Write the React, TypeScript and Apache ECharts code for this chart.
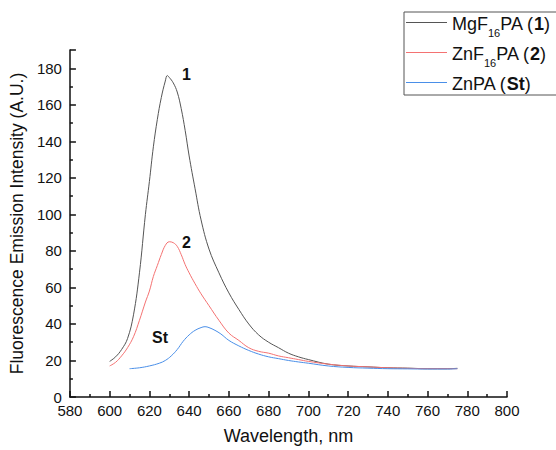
import React, { useEffect, useRef } from "react";
import * as echarts from "echarts";

const wl1 = [600, 603, 606, 609, 612, 615, 618, 620, 622, 624, 626, 628, 629, 630, 632, 634, 636, 638, 640, 643, 646, 650, 655, 660, 665, 670, 675, 680, 685, 690, 695, 700, 710, 720, 730, 740, 750, 760, 770, 775];
const v1 = [19.5, 22, 26, 32, 45, 68, 100, 118, 137, 152, 164, 173, 176, 175, 172, 167, 158, 146, 132, 114, 97, 81, 68, 57, 48, 40, 34, 30, 27, 24, 22, 20.5, 18, 17, 16.5, 16, 15.8, 15.5, 15.5, 15.7];

const wl2 = [600, 603, 606, 609, 612, 615, 618, 620, 622, 624, 626, 628, 630, 632, 634, 636, 638, 640, 643, 646, 650, 655, 660, 665, 670, 675, 680, 685, 690, 695, 700, 710, 720, 730, 740, 750, 760, 770, 775];
const v2 = [17, 19, 22.5, 27, 33, 42, 52, 58, 66, 72, 78, 83, 85, 84.5, 82.5, 78, 72.5, 68, 62, 56.5, 50, 42, 35, 31, 27, 25, 24, 22.5, 21.5, 20.5, 19.5, 18, 17, 16.5, 16, 15.7, 15.5, 15.5, 15.5];

const wl3 = [610, 615, 620, 625, 628, 631, 634, 637, 640, 643, 646, 648, 650, 653, 656, 660, 665, 670, 675, 680, 685, 690, 695, 700, 710, 720, 730, 740, 750, 760, 770, 775];
const v3 = [15.5, 16, 17, 18.5, 20, 22.5, 26, 30.5, 34, 36.5, 38, 38.5, 38, 36.5, 34.5, 31, 28, 25.5, 23.5, 22, 21, 20, 19.2, 18.5, 17, 16.2, 15.8, 15.5, 15.4, 15.3, 15.3, 15.5];

const xTicks = { min: 580, max: 800, interval: 20 };
const yTicks = { min: 0, max: 190, interval: 20 };

const seriesNames = ["MgF16PA (1)", "ZnF16PA (2)", "ZnPA (St)"];
const legendRich: Record<string, string> = {
  "MgF16PA (1)": "{n|MgF}{s|16}{n|PA (}{b|1}{n|)}",
  "ZnF16PA (2)": "{n|ZnF}{s|16}{n|PA (}{b|2}{n|)}",
  "ZnPA (St)": "{n|ZnPA (}{b|St}{n|)}",
};
const peakLabels = [
  { text: "1", x: 182, y: 66 },
  { text: "2", x: 182, y: 234 },
  { text: "St", x: 152, y: 329 },
];
const colors = ["#555555", "#f47272", "#4a8fe8"];

const zip = (a: number[], b: number[]) => a.map((x, i) => [x, b[i]]);

export default function App() {
  const ref = useRef<HTMLDivElement>(null);
  useEffect(() => {
    document.body.style.margin = "0";
    if (!ref.current) return;
    const chart = echarts.init(ref.current, undefined, { renderer: "svg" });
    const font = "Liberation Sans, Arial, sans-serif";
    chart.setOption({
      animation: false,
      textStyle: { fontFamily: font },
      grid: { left: 69, right: 49, top: 50, bottom: 49 },
      legend: {
        orient: "vertical",
        left: 404,
        top: 12,
        icon: "rect",
        itemWidth: 41,
        itemHeight: 1,
        itemGap: 7,
        padding: [3, 8, 2, 2],
        borderColor: "#555",
        borderWidth: 1,
        data: seriesNames,
        formatter: (name: string) => legendRich[name],
        textStyle: {
          fontFamily: font,
          color: "#111",
          padding: [0, 0, 0, 0],
          rich: {
            n: { fontSize: 18, fontFamily: font, color: "#111", lineHeight: 21, verticalAlign: "bottom" },
            s: { fontSize: 11, fontFamily: font, color: "#111", lineHeight: 21, verticalAlign: "bottom", padding: [0, 0, -5, 0] },
            b: { fontSize: 18, fontFamily: font, color: "#111", fontWeight: "bold", lineHeight: 21, verticalAlign: "bottom" },
          },
        },
      },
      xAxis: {
        type: "value",
        min: xTicks.min,
        max: xTicks.max,
        interval: xTicks.interval,
        name: "Wavelength, nm",
        nameLocation: "middle",
        nameGap: 30,
        nameTextStyle: { fontSize: 18, color: "#111", fontFamily: font },
        axisLine: { show: true, lineStyle: { color: "#111", width: 1.5 } },
        axisTick: { show: true, inside: true, length: 6, lineStyle: { color: "#111", width: 1.5 } },
        minorTick: { show: true, splitNumber: 2, length: 3, lineStyle: { color: "#111", width: 1.5 } },
        axisLabel: { fontSize: 15, color: "#111", margin: 6 },
        splitLine: { show: false },
      },
      yAxis: {
        type: "value",
        min: yTicks.min,
        max: yTicks.max,
        interval: yTicks.interval,
        name: "Fluorescence Emission Intensity (A.U.)",
        nameLocation: "middle",
        nameGap: 38,
        nameTextStyle: { fontSize: 17.5, color: "#111", fontFamily: font },
        axisLine: { show: true, lineStyle: { color: "#111", width: 1.5 } },
        axisTick: { show: true, inside: true, length: 6, lineStyle: { color: "#111", width: 1.5 } },
        minorTick: { show: true, splitNumber: 2, length: 3, lineStyle: { color: "#111", width: 1.5 } },
        axisLabel: {
          fontSize: 15,
          color: "#111",
          margin: 8,
          formatter: (v: number) => (v % 20 === 0 ? String(v) : ""),
        },
        splitLine: { show: false },
      },
      series: [
        { name: seriesNames[0], type: "line", data: zip(wl1, v1), smooth: 0.4, symbol: "none", lineStyle: { color: colors[0], width: 1 }, itemStyle: { color: colors[0] } },
        { name: seriesNames[1], type: "line", data: zip(wl2, v2), smooth: 0.4, symbol: "none", lineStyle: { color: colors[1], width: 1 }, itemStyle: { color: colors[1] } },
        { name: seriesNames[2], type: "line", data: zip(wl3, v3), smooth: 0.4, symbol: "none", lineStyle: { color: colors[2], width: 1 }, itemStyle: { color: colors[2] } },
      ],
      graphic: peakLabels.map((p) => ({
        type: "text",
        left: p.x,
        top: p.y,
        style: { text: p.text, fontSize: 16, fontWeight: "bold", fill: "#111", fontFamily: font },
      })),
    });
    return () => chart.dispose();
  }, []);
  return <div ref={ref} style={{ width: 556, height: 450 }} />;
}
